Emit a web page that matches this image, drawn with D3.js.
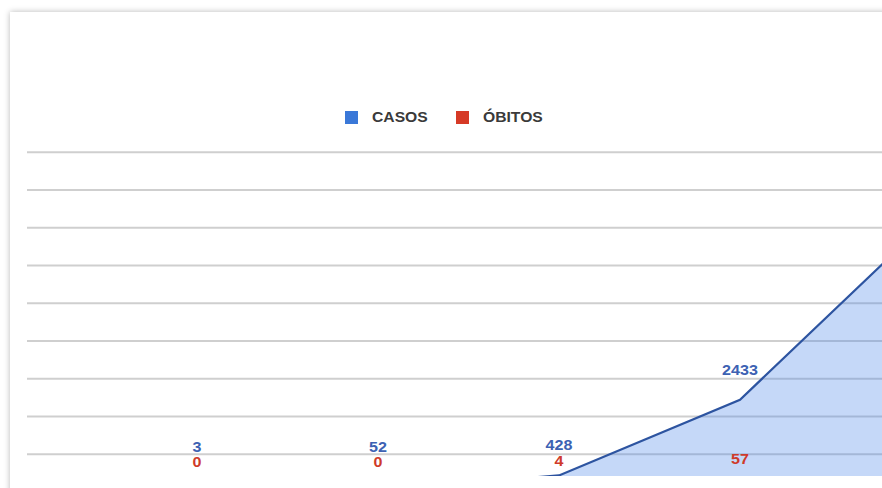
<!DOCTYPE html>
<html>
<head>
<meta charset="utf-8">
<script src="https://cdnjs.cloudflare.com/ajax/libs/d3/7.8.5/d3.min.js"></script>
<style>
  html, body { margin: 0; padding: 0; background: #ffffff; }
  body { width: 882px; height: 488px; overflow: hidden; position: relative; }
  .card {
    position: absolute; left: 10px; top: 12px; width: 920px; height: 520px;
    background: #ffffff; box-shadow: 0 0 6px rgba(0,0,0,0.28);
  }
  svg { position: absolute; left: 0; top: 0; }
  text { font-family: "Liberation Sans", Arial, sans-serif; }
</style>
</head>
<body>
<div class="card"></div>
<svg id="chart" width="882" height="488"></svg>
<script>
// Weekly cumulative totals
const categories = ["04/03", "11/03", "18/03", "25/03", "01/04"];
const casos = [3, 52, 428, 2433, 7000];
const obitos = [0, 0, 4, 57, 241];
const gridValues = [1000, 2000, 3000, 4000, 5000, 6000, 7000, 8000, 9000];
const seriesNames = ["CASOS", "ÓBITOS"];
const seriesColors = ["#3a78d8", "#d63a26"];

const svg = d3.select("#chart");

const plot = { left: 27, right: 882, top: 140, bottom: 476 };

const x = d3.scalePoint().domain(categories).range([197, 921]);
const y = d3.scaleLinear().domain([0, 9000]).range([491.6, 151.8]);

svg.append("defs").append("clipPath").attr("id", "plotClip")
  .append("rect")
  .attr("x", plot.left).attr("y", plot.top)
  .attr("width", plot.right - plot.left).attr("height", plot.bottom - plot.top);

// Gridlines from the y axis
const gridAxis = d3.axisLeft(y).tickValues(gridValues)
  .tickSize(-(plot.right - plot.left)).tickFormat("");
const grid = svg.append("g")
  .attr("transform", `translate(${plot.left},0)`)
  .call(gridAxis);
grid.select(".domain").remove();
grid.selectAll(".tick line").attr("stroke", "#cfcfcf").attr("stroke-width", 2);

const body = svg.append("g").attr("clip-path", "url(#plotClip)");

const pts = categories.map((c, i) => ({ c, casos: casos[i], obitos: obitos[i] }));

// Cases area and line
body.append("path").datum(pts)
  .attr("d", d3.area().x(d => x(d.c)).y0(y(0)).y1(d => y(d.casos)))
  .attr("fill", "#4a86e8").attr("fill-opacity", 0.32);
body.append("path").datum(pts)
  .attr("d", d3.line().x(d => x(d.c)).y(d => y(d.casos)))
  .attr("fill", "none").attr("stroke", "#2d54a0").attr("stroke-width", 2.2);

// Deaths area and line
body.append("path").datum(pts)
  .attr("d", d3.area().x(d => x(d.c)).y0(y(0)).y1(d => y(d.obitos)))
  .attr("fill", "#d63a26").attr("fill-opacity", 0.3);
body.append("path").datum(pts)
  .attr("d", d3.line().x(d => x(d.c)).y(d => y(d.obitos)))
  .attr("fill", "none").attr("stroke", "#b33020").attr("stroke-width", 2);

// Value labels (only for points inside the plot)
const labels = svg.append("g");
pts.filter(d => x(d.c) <= plot.right).forEach(d => {
  const yo = y(d.obitos) - 25;
  const yc = Math.min(y(d.casos) - 25, yo - 15);
  labels.append("text")
    .attr("transform", `translate(${x(d.c)},${yc}) scale(1.15,1)`)
    .attr("text-anchor", "middle")
    .attr("font-size", 14).attr("font-weight", "bold")
    .attr("fill", "#3d62b3")
    .text(d.casos);
  labels.append("text")
    .attr("transform", `translate(${x(d.c)},${yo}) scale(1.15,1)`)
    .attr("text-anchor", "middle")
    .attr("font-size", 14).attr("font-weight", "bold")
    .attr("fill", "#cf3a2a")
    .text(d.obitos);
});

// Legend
const legend = svg.append("g");
const legendX = [345, 456];
seriesNames.forEach((name, i) => {
  legend.append("rect")
    .attr("x", legendX[i]).attr("y", 111)
    .attr("width", 13).attr("height", 13)
    .attr("fill", seriesColors[i]);
  legend.append("text")
    .attr("transform", `translate(${legendX[i] + 27},122) scale(1.12,1)`)
    .attr("font-size", 14).attr("font-weight", "bold")
    .attr("fill", "#3a3a3a")
    .text(name);
});
</script>
</body>
</html>
